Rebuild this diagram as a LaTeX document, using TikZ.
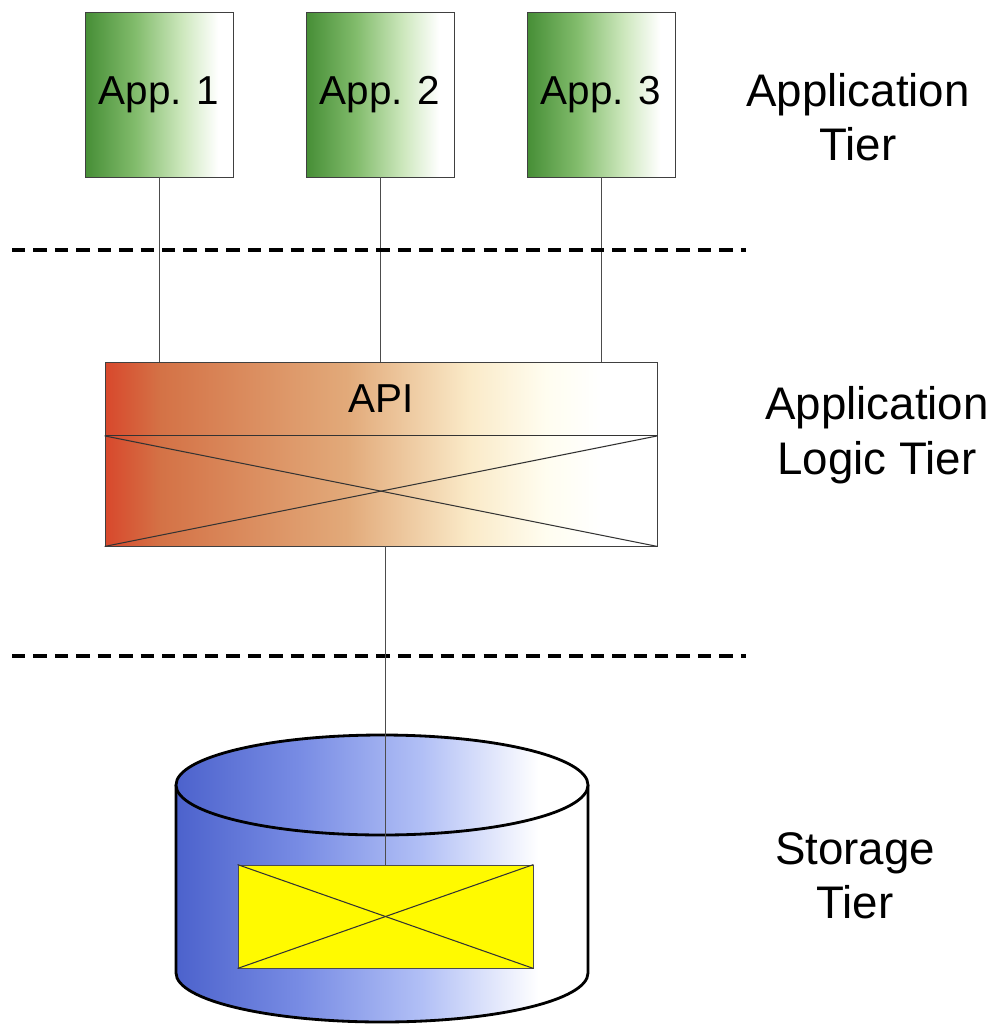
\documentclass[tikz,border=0pt]{standalone}
\usepackage{fontspec}
\setmainfont{Liberation Sans}
\usetikzlibrary{calc}

\definecolor{appdark}{RGB}{70,142,54}
\definecolor{appmid}{RGB}{130,188,108}
\definecolor{applight}{RGB}{206,232,190}
\definecolor{apired}{RGB}{216,72,44}
\definecolor{apirust}{RGB}{212,114,70}
\definecolor{apitan}{RGB}{226,170,122}
\definecolor{apicream}{RGB}{250,234,200}
\definecolor{apiwhite}{RGB}{255,253,240}
\definecolor{dbblue}{RGB}{76,98,204}
\definecolor{dbmid}{RGB}{120,140,228}
\definecolor{dblight}{RGB}{178,192,246}
\definecolor{storeyellow}{RGB}{255,250,0}

% horizontal gradients; the filled path spans 25bp..75bp
\pgfdeclarehorizontalshading{appshade}{100bp}{color(0bp)=(appdark); color(25bp)=(appdark); color(42bp)=(appmid); color(58bp)=(applight); color(70bp)=(white); color(100bp)=(white)}
\pgfdeclarehorizontalshading{apishade}{100bp}{color(0bp)=(apired); color(25bp)=(apired); color(30bp)=(apirust); color(47bp)=(apitan); color(58bp)=(apicream); color(65bp)=(apiwhite); color(70bp)=(white); color(100bp)=(white)}
\pgfdeclarehorizontalshading{dbshade}{100bp}{color(0bp)=(dbblue); color(25bp)=(dbblue); color(40bp)=(dbmid); color(55bp)=(dblight); color(69bp)=(white); color(100bp)=(white)}

\tikzset{
  appbox/.style={draw=black!75, line width=0.5pt, shading=appshade, minimum width=2.96cm, minimum height=3.3cm, inner sep=0pt, font=\fontsize{23}{27}\selectfont},
  apibox/.style={draw=black!75, line width=0.5pt, shading=apishade, minimum width=11.04cm, minimum height=3.68cm, inner sep=0pt},
  storebox/.style={draw=black!70, line width=0.5pt, fill=storeyellow, minimum width=5.9cm, minimum height=2.06cm, inner sep=0pt},
  crossline/.style={draw=black!80, line width=0.6pt},
  link/.style={draw=black!70, line width=0.4pt},
  tierline/.style={draw=black, line width=1.8pt, dash pattern=on 7.6pt off 4.6pt},
  tierlabel/.style={align=center, font=\fontsize{26}{31}\selectfont},
  dbedge/.style={draw=black, line width=1.6pt}
}

\begin{document}
\begin{tikzpicture}[x=0.02cm, y=-0.02cm]
\useasboundingbox (0,0) rectangle (999,1024);

% application boxes
\node[appbox] (app1) at (159,94.5) {App. 1};
\node[appbox] (app2) at (380,94.5) {App. 2};
\node[appbox] (app3) at (601,94.5) {App. 3};

% API / logic block
\node[apibox] (api) at (381,454) {};
\coordinate (divw) at ($(api.north west)!0.402!(api.south west)$);
\coordinate (dive) at ($(api.north east)!0.402!(api.south east)$);
\draw[crossline] (divw) -- (dive);
\draw[crossline] (divw) -- (api.south east);
\draw[crossline] (dive) -- (api.south west);
\node[font=\fontsize{23}{27}\selectfont] (apilabel) at ($(api.north)!0.5!(divw -| api.north)$) {API};

% links from the applications to the API
\draw[link] (app1.south) -- (app1.south |- api.north);
\draw[link] (app2.south) -- (app2.south |- api.north);
\draw[link] (app3.south) -- (app3.south |- api.north);

% tier separators
\coordinate (sep1w) at (12,250);
\coordinate (sep1e) at (746,250);
\coordinate (sep2w) at (12,656);
\coordinate (sep2e) at (746,656);
\draw[tierline] (sep1w) -- (sep1e);
\draw[tierline] (sep2w) -- (sep2e);

% storage cylinder
\shade[shading=dbshade] (176,785) -- (176,973) arc[start angle=180, end angle=360, x radius=206, y radius=-49] -- (588,785) -- cycle;
\draw[dbedge] (176,785) -- (176,973) arc[start angle=180, end angle=360, x radius=206, y radius=-49] -- (588,785);
\shade[shading=dbshade] (382,785) ellipse [x radius=206, y radius=50];
\draw[dbedge] (382,785) ellipse [x radius=206, y radius=50];

% stored data block
\node[storebox] (store) at (385.5,916.5) {};
\draw[crossline] (store.north west) -- (store.south east);
\draw[crossline] (store.north east) -- (store.south west);

% link from the API down to the store
\draw[link] (api.south -| store.north) -- (store.north);

% tier labels
\node[tierlabel] (tapp) at (858,117) {Application\\Tier};
\node[tierlabel] (tlogic) at (877,435) {Application\\Logic Tier};
\node[tierlabel] (tstore) at (855,876) {Storage\\Tier};
\end{tikzpicture}
\end{document}
